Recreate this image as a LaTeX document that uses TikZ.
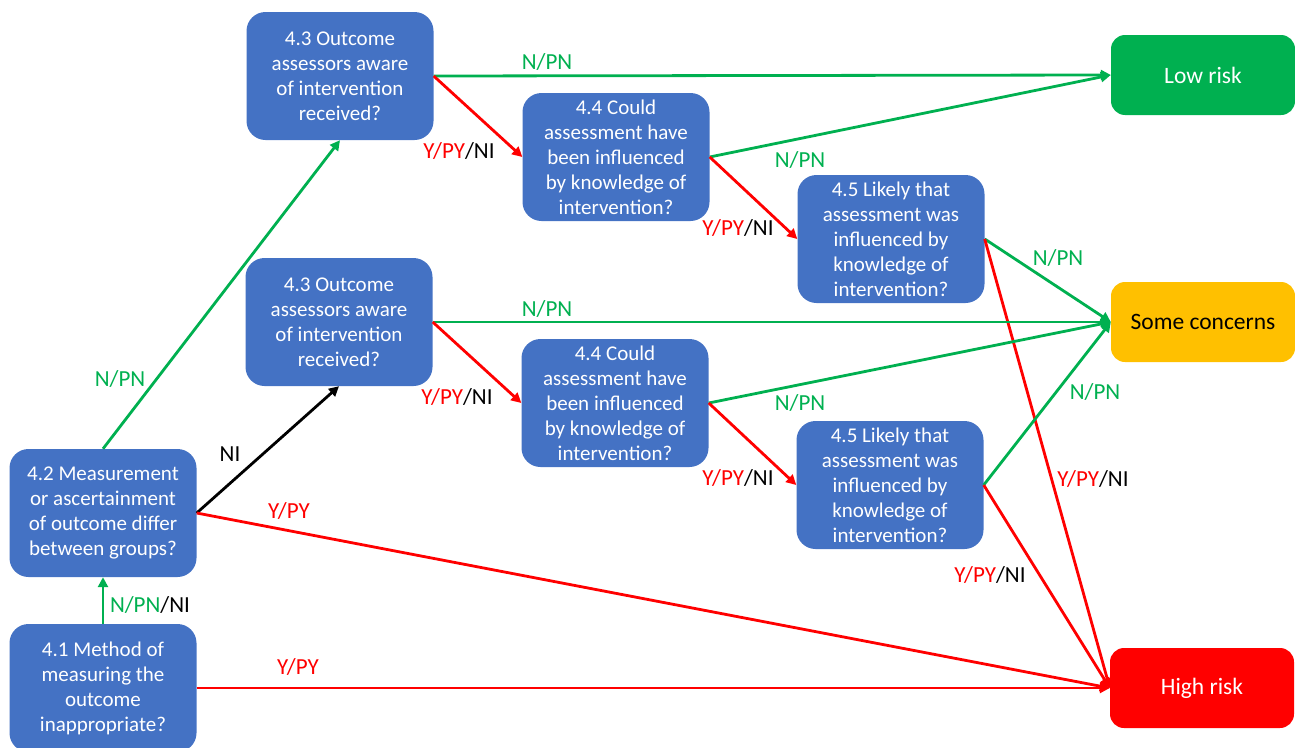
\documentclass[tikz,border=0pt]{standalone}
\usepackage{fontspec}
\setmainfont{Carlito}
\usetikzlibrary{arrows.meta}
\definecolor{qblue}{HTML}{4472C4}
\definecolor{okgreen}{HTML}{00B050}
\definecolor{midamber}{HTML}{FFC000}
\definecolor{badred}{HTML}{FF0000}
\tikzset{
  question/.style={draw=none, fill=qblue, rounded corners=19pt, minimum width=187pt,
    minimum height=128pt, inner sep=0pt, align=center, text=white,
    font=\fontsize{21}{25}\selectfont},
  verdict/.style={draw=none, rounded corners=14pt, minimum width=184pt,
    minimum height=80pt, inner sep=0pt, align=center, font=\fontsize{23.5}{28}\selectfont},
  link/.style={line width=2.8pt, -{Triangle[length=10pt,width=10pt]}},
  yes/.style={link, draw=badred},
  no/.style={link, draw=okgreen},
  unk/.style={link, draw=black},
  answer/.style={inner sep=0pt, font=\fontsize{23}{27}\selectfont},
}
\newcommand{\gN}{\textcolor{okgreen}{N/PN}}
\newcommand{\rY}{\textcolor{badred}{Y/PY}}
\begin{document}
\begin{tikzpicture}[x=1pt,y=-1pt]
\useasboundingbox (0,0) rectangle (1295,747);

% question boxes
\node[question] (q41)  at (103,688) {4.1 Method of\\measuring the\\outcome\\inappropriate?};
\node[question] (q42)  at (103,513) {4.2 Measurement\\or ascertainment\\of outcome differ\\between groups?};
\node[question] (q43a) at (340,76)  {4.3 Outcome\\assessors aware\\of intervention\\received?};
\node[question] (q43b) at (339,322) {4.3 Outcome\\assessors aware\\of intervention\\received?};
\node[question] (q44a) at (616,157) {4.4 Could\\assessment have\\been influenced\\by knowledge of\\intervention?};
\node[question] (q44b) at (615,403) {4.4 Could\\assessment have\\been influenced\\by knowledge of\\intervention?};
\node[question] (q45a) at (891,239) {4.5 Likely that\\assessment was\\influenced by\\knowledge of\\intervention?};
\node[question] (q45b) at (890,485) {4.5 Likely that\\assessment was\\influenced by\\knowledge of\\intervention?};

% judgements
\node[verdict, fill=okgreen, text=white] (low)  at (1203,75)  {Low risk};
\node[verdict, fill=midamber, text=black] (some) at (1203,322) {Some concerns};
\node[verdict, fill=badred, text=white]  (high) at (1202,688) {High risk};

% connectors
\draw[no]  (q41.north) -- (q42.south);
\draw[yes] (q41.east) -- (high.west);
\draw[no]  (q42.north) -- (q43a.south);
\draw[unk] (q42.east) -- (q43b.south);
\draw[yes] (q42.east) -- (high.west);

\draw[no]  (q43a.east) -- (low.west);
\draw[yes] (q43a.east) -- (q44a.west);
\draw[no]  (q44a.east) -- (low.west);
\draw[yes] (q44a.east) -- (q45a.west);
\draw[no]  (q45a.east) -- (some.west);
\draw[yes] (q45a.east) -- (high.west);

\draw[no]  (q43b.east) -- (some.west);
\draw[yes] (q43b.east) -- (q44b.west);
\draw[no]  (q44b.east) -- (some.west);
\draw[yes] (q44b.east) -- (q45b.west);
\draw[no]  (q45b.east) -- (some.west);
\draw[yes] (q45b.east) -- (high.west);

% answer labels
\node[answer] (a41up)  at (150,605) {\gN/NI};
\node[answer] (a41hi)  at (298,667) {\rY};
\node[answer] (a42up)  at (120,379) {\gN};
\node[answer] (a42ni)  at (230,454) {NI};
\node[answer] (a42hi)  at (289,511) {\rY};
\node[answer] (a43alo) at (547,62)  {\gN};
\node[answer] (a43ay)  at (459,151) {\rY/NI};
\node[answer] (a44alo) at (800,160) {\gN};
\node[answer] (a44ay)  at (738,228) {\rY/NI};
\node[answer] (a45asc) at (1058,258) {\gN};
\node[answer] (a45ahi) at (1093,479) {\rY/NI};
\node[answer] (a43bsc) at (547,309) {\gN};
\node[answer] (a43by)  at (457,397) {\rY/NI};
\node[answer] (a44bsc) at (800,403) {\gN};
\node[answer] (a44by)  at (738,478) {\rY/NI};
\node[answer] (a45bsc) at (1095,392) {\gN};
\node[answer] (a45bhi) at (990,575) {\rY/NI};
\end{tikzpicture}
\end{document}
